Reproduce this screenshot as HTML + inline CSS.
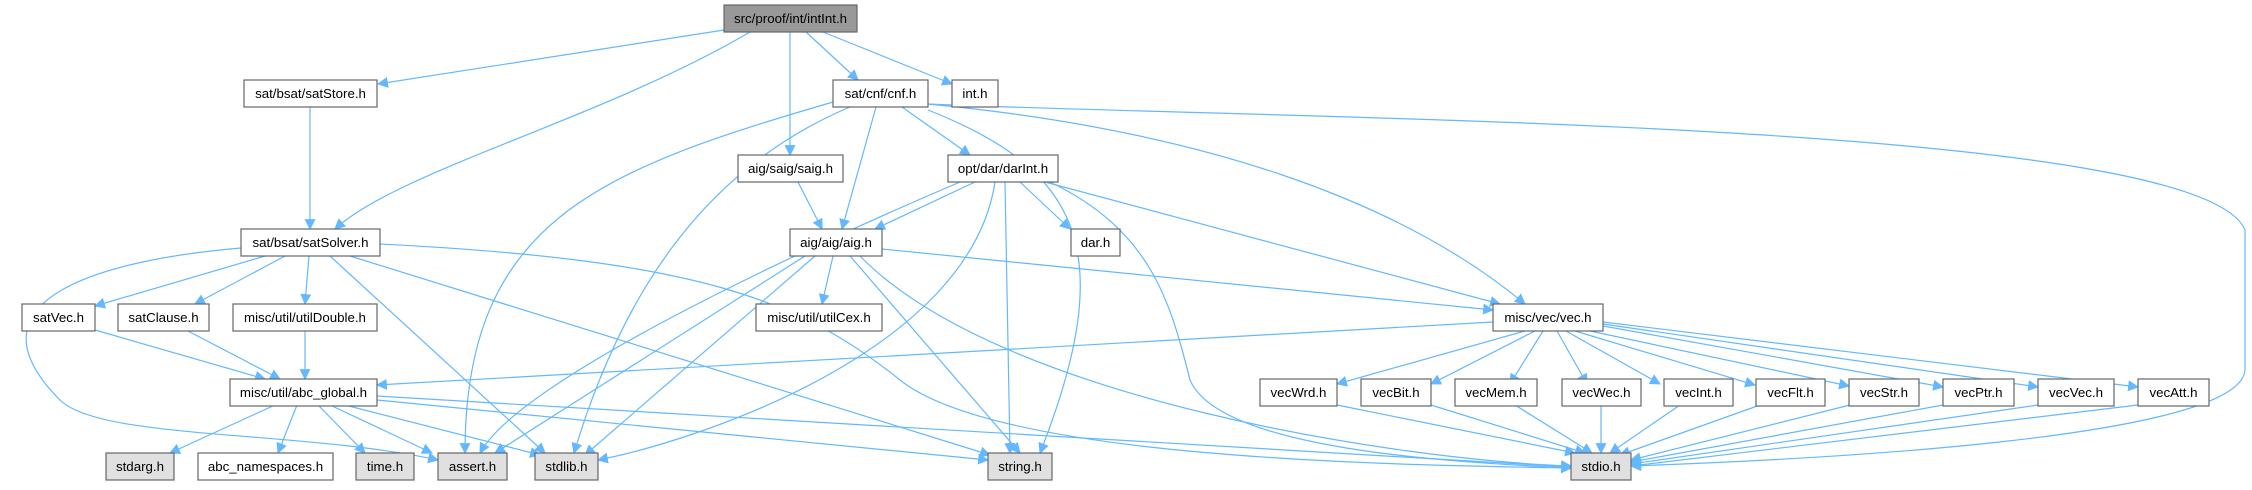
<!DOCTYPE html>
<html><head><meta charset="utf-8"><style>
html,body{margin:0;padding:0;background:#fff;}
svg text{font-family:"Liberation Sans",Arial,sans-serif;font-size:13.3px;fill:#000;}
</style></head><body>
<svg width="2252" height="485" viewBox="0 0 2252 485" xmlns="http://www.w3.org/2000/svg">
<defs><marker id="a" viewBox="0 0 10 10" refX="9" refY="5" markerWidth="11" markerHeight="11" markerUnits="userSpaceOnUse" orient="auto"><path d="M0,0 L10,5 L0,10 z" fill="#63b8ff"/></marker></defs>
<g fill="none" stroke="#63b8ff" stroke-width="1.2" marker-end="url(#a)">
<path d="M724,30 L378,84"/>
<path d="M750,32 C600,120 400,170 335,229"/>
<path d="M790,32 L790,155"/>
<path d="M806,32 L858,80"/>
<path d="M823,32 L952,84"/>
<path d="M310,107 L310,229"/>
<path d="M833,102 C600,170 465,220 465,453"/>
<path d="M850,107 C700,170 620,300 574,453"/>
<path d="M876,107 L842,229"/>
<path d="M902,107 L970,155"/>
<path d="M928,110 C1080,170 1120,250 1040,453"/>
<path d="M928,104 C1200,130 1400,200 1525,304"/>
<path d="M928,104 C1300,120 2200,120 2245,230 L2245,370 C2240,440 1800,460 1631,466"/>
<path d="M960,182 C800,250 520,380 480,453"/>
<path d="M975,182 L875,229"/>
<path d="M995,182 C970,350 700,440 598,460"/>
<path d="M1005,182 L1010,453"/>
<path d="M1020,182 L1070,229"/>
<path d="M1045,182 L1500,304"/>
<path d="M1050,182 C1150,230 1170,300 1190,380 C1220,450 1450,462 1571,468"/>
<path d="M798,182 L822,229"/>
<path d="M241,248 C100,260 -40,300 60,400 C100,440 300,430 438,460"/>
<path d="M265,256 L95,306"/>
<path d="M285,256 L195,304"/>
<path d="M309,256 L305,304"/>
<path d="M330,256 L545,453"/>
<path d="M350,256 L990,455"/>
<path d="M380,244 C700,260 800,300 900,380 C1000,460 1400,465 1571,468"/>
<path d="M805,256 L495,453"/>
<path d="M815,256 L585,455"/>
<path d="M833,256 L822,304"/>
<path d="M850,256 L1020,453"/>
<path d="M860,256 C1000,400 1400,460 1571,466"/>
<path d="M882,249 L1493,310"/>
<path d="M305,331 L305,379"/>
<path d="M95,330 L265,379"/>
<path d="M188,331 L280,379"/>
<path d="M1493,322 L377,385"/>
<path d="M1525,331 L1337,384"/>
<path d="M1535,331 L1431,384"/>
<path d="M1543,331 L1510,384"/>
<path d="M1557,331 L1587,384"/>
<path d="M1566,331 L1660,384"/>
<path d="M1575,331 L1755,385"/>
<path d="M1590,331 L1849,386"/>
<path d="M1603,326 L1943,387"/>
<path d="M1603,324 L2038,387"/>
<path d="M1603,322 L2138,387"/>
<path d="M275,405 L170,453"/>
<path d="M297,405 L278,453"/>
<path d="M318,405 L365,453"/>
<path d="M330,405 L432,453"/>
<path d="M345,405 L540,455"/>
<path d="M377,400 L988,460"/>
<path d="M377,396 L1571,467"/>
<path d="M1337,405 L1575,453"/>
<path d="M1431,405 L1585,453"/>
<path d="M1515,405 L1592,453"/>
<path d="M1601,405 L1601,453"/>
<path d="M1680,405 L1610,453"/>
<path d="M1760,405 L1620,455"/>
<path d="M1850,405 L1631,460"/>
<path d="M1943,405 L1631,462"/>
<path d="M2038,405 L1631,464"/>
<path d="M2138,405 L1631,466"/>
</g>
<g stroke="#666" stroke-width="1.2">
<rect x="724" y="5" width="133" height="27" fill="#999"/>
<rect x="244" y="80" width="133" height="27" fill="#fff"/>
<rect x="833" y="80" width="95" height="27" fill="#fff"/>
<rect x="952" y="80" width="46" height="27" fill="#fff"/>
<rect x="738" y="155" width="105" height="27" fill="#fff"/>
<rect x="948" y="155" width="110" height="27" fill="#fff"/>
<rect x="241" y="229" width="139" height="27" fill="#fff"/>
<rect x="790" y="229" width="92" height="27" fill="#fff"/>
<rect x="1071" y="229" width="49" height="27" fill="#fff"/>
<rect x="22" y="304" width="73" height="27" fill="#fff"/>
<rect x="118" y="304" width="91" height="27" fill="#fff"/>
<rect x="233" y="304" width="144" height="27" fill="#fff"/>
<rect x="756" y="304" width="126" height="27" fill="#fff"/>
<rect x="1493" y="304" width="110" height="27" fill="#fff"/>
<rect x="230" y="379" width="147" height="27" fill="#fff"/>
<rect x="1260" y="379" width="77" height="27" fill="#fff"/>
<rect x="1361" y="379" width="70" height="27" fill="#fff"/>
<rect x="1455" y="379" width="82" height="27" fill="#fff"/>
<rect x="1562" y="379" width="79" height="27" fill="#fff"/>
<rect x="1664" y="379" width="69" height="27" fill="#fff"/>
<rect x="1756" y="379" width="69" height="27" fill="#fff"/>
<rect x="1849" y="379" width="70" height="27" fill="#fff"/>
<rect x="1943" y="379" width="71" height="27" fill="#fff"/>
<rect x="2038" y="379" width="76" height="27" fill="#fff"/>
<rect x="2138" y="379" width="71" height="27" fill="#fff"/>
<rect x="106" y="453" width="68" height="27" fill="#e0e0e0"/>
<rect x="198" y="453" width="135" height="27" fill="#fff"/>
<rect x="356" y="453" width="58" height="27" fill="#e0e0e0"/>
<rect x="438" y="453" width="69" height="27" fill="#e0e0e0"/>
<rect x="535" y="453" width="63" height="27" fill="#e0e0e0"/>
<rect x="988" y="453" width="64" height="27" fill="#e0e0e0"/>
<rect x="1571" y="453" width="60" height="27" fill="#e0e0e0"/>
</g>
<g text-anchor="middle">
<text x="790.5" y="23">src/proof/int/intInt.h</text>
<text x="310.5" y="98">sat/bsat/satStore.h</text>
<text x="880.5" y="98">sat/cnf/cnf.h</text>
<text x="975" y="98">int.h</text>
<text x="790.5" y="173">aig/saig/saig.h</text>
<text x="1003" y="173">opt/dar/darInt.h</text>
<text x="310.5" y="247">sat/bsat/satSolver.h</text>
<text x="836" y="247">aig/aig/aig.h</text>
<text x="1095.5" y="247">dar.h</text>
<text x="58.5" y="322">satVec.h</text>
<text x="163.5" y="322">satClause.h</text>
<text x="305" y="322">misc/util/utilDouble.h</text>
<text x="819" y="322">misc/util/utilCex.h</text>
<text x="1548" y="322">misc/vec/vec.h</text>
<text x="303.5" y="397">misc/util/abc_global.h</text>
<text x="1298.5" y="397">vecWrd.h</text>
<text x="1396" y="397">vecBit.h</text>
<text x="1496" y="397">vecMem.h</text>
<text x="1601.5" y="397">vecWec.h</text>
<text x="1698.5" y="397">vecInt.h</text>
<text x="1790.5" y="397">vecFlt.h</text>
<text x="1884" y="397">vecStr.h</text>
<text x="1978.5" y="397">vecPtr.h</text>
<text x="2076" y="397">vecVec.h</text>
<text x="2173.5" y="397">vecAtt.h</text>
<text x="140" y="471">stdarg.h</text>
<text x="265.5" y="471">abc_namespaces.h</text>
<text x="385" y="471">time.h</text>
<text x="472.5" y="471">assert.h</text>
<text x="566.5" y="471">stdlib.h</text>
<text x="1020" y="471">string.h</text>
<text x="1601" y="471">stdio.h</text>
</g>
</svg>
</body></html>
